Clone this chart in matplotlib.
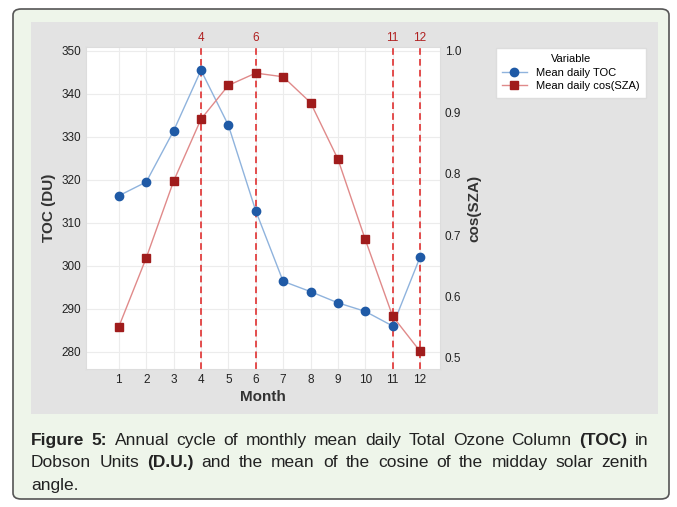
import numpy as np
import matplotlib.pyplot as plt
from matplotlib.patches import FancyBboxPatch, Rectangle

plt.rcParams['font.family'] = ['Liberation Sans', 'DejaVu Sans']

months = list(range(1, 13))
toc = [316.3, 319.5, 331.4, 345.5, 332.7, 312.8, 296.4, 294.0, 291.4, 289.4, 286.0, 302.0]
cos_sza = [0.551, 0.663, 0.788, 0.889, 0.944, 0.964, 0.958, 0.916, 0.824, 0.693, 0.568, 0.511]
ref_months = [4, 6, 11, 12]

fig = plt.figure(figsize=(6.77, 5.07), dpi=100)
W, H = 677, 507

# outer caption box
fig.patches.append(FancyBboxPatch((13 / W, 8 / H), 656 / W, 490 / H,
                                  boxstyle="round,pad=0,rounding_size=0.012", zorder=-10,
                                  transform=fig.transFigure, fc='#eef5ea', ec='#555555', lw=1.2))
# gray chart background
fig.patches.append(Rectangle((31 / W, (H - 414) / H), 627 / W, 392 / H, zorder=-9,
                             transform=fig.transFigure, fc='#e3e3e3', ec='none'))

ax = fig.add_axes([86 / W, (H - 369) / H, 354 / W, 322 / H])
ax.set_facecolor('white')
ax.set_xlim(-0.2, 12.73)
ax.set_ylim(276, 350.9)
ax.set_yticks(range(280, 351, 10))
ax.set_xticks(months)
ax.grid(True, color='#ececec', lw=0.8)
ax.set_axisbelow(True)
for s in ax.spines.values():
    s.set_color('#dddddd')
ax.tick_params(length=0, labelsize=8.5, labelcolor='#222222')

ax2 = ax.twinx()
ax2.set_ylim(0.482, 1.0065)
ax2.set_yticks([0.5, 0.6, 0.7, 0.8, 0.9, 1.0])
ax2.set_yticklabels(['0.5', '0.6', '0.7', '0.8', '0.9', '1.0'])
ax2.tick_params(length=0, labelsize=8.5, labelcolor='#222222')
for s in ax2.spines.values():
    s.set_visible(False)

for m in ref_months:
    ax.axvline(m, color='#e03030', ls='--', lw=1.2, dashes=(4, 2.5))
    ax.text(m, 1.01, str(m), transform=ax.get_xaxis_transform(), color='#b02020',
            ha='center', va='bottom', fontsize=8.5)

l1, = ax.plot(months, toc, color='#8fb3dd', lw=1, marker='o', ms=6,
              mfc='#1f5aa6', mec='#1f5aa6', label='Mean daily TOC')
l2, = ax2.plot(months, cos_sza, color='#e08a8a', lw=1, marker='s', ms=6,
               mfc='#a01c1c', mec='#a01c1c', label='Mean daily cos(SZA)')

ax.set_xlabel('Month', fontsize=11, fontweight='bold', color='#333333', labelpad=3)
ax.set_ylabel('TOC (DU)', fontsize=11, fontweight='bold', color='#333333')
ax2.set_ylabel('cos(SZA)', fontsize=11, fontweight='bold', color='#333333')

leg = fig.legend([l1, l2], ['Mean daily TOC', 'Mean daily cos(SZA)'], title='Variable',
                 loc='upper left', bbox_to_anchor=(490 / W, (H - 42) / H),
                 fontsize=8, title_fontsize=8, fancybox=False, framealpha=1,
                 edgecolor='#dddddd', handlelength=2.2, borderpad=0.6, labelspacing=0.3)

# caption, lines 1-2 justified
fs = 12.5
lines = [
    [("Figure 5:", 'bold'), (" Annual cycle of monthly mean daily Total Ozone Column ", 'normal'),
     ("(TOC)", 'bold'), (" in", 'normal')],
    [("Dobson Units ", 'normal'), ("(D.U.)", 'bold'),
     (" and the mean of the cosine of the midday solar zenith", 'normal')],
    [("angle.", 'normal')],
]
ys = [445, 467, 490]
x0, x1 = 31, 648
renderer = fig.canvas.get_renderer()
for i, (parts, y) in enumerate(zip(lines, ys)):
    words = []
    for txt, w in parts:
        for wd in txt.split():
            words.append((wd, w))
    texts = [fig.text(0, (H - y) / H, wd, fontsize=fs, fontweight=w, va='baseline',
                      color='#222222') for wd, w in words]
    widths = [t.get_window_extent(renderer).width for t in texts]
    if i < 2:
        gap = (x1 - x0 - sum(widths)) / (len(texts) - 1)
    else:
        gap = 3.3
    x = x0
    for t, wd in zip(texts, widths):
        t.set_x(x / W)
        x += wd + gap

fig.savefig('out.png', dpi=100)
